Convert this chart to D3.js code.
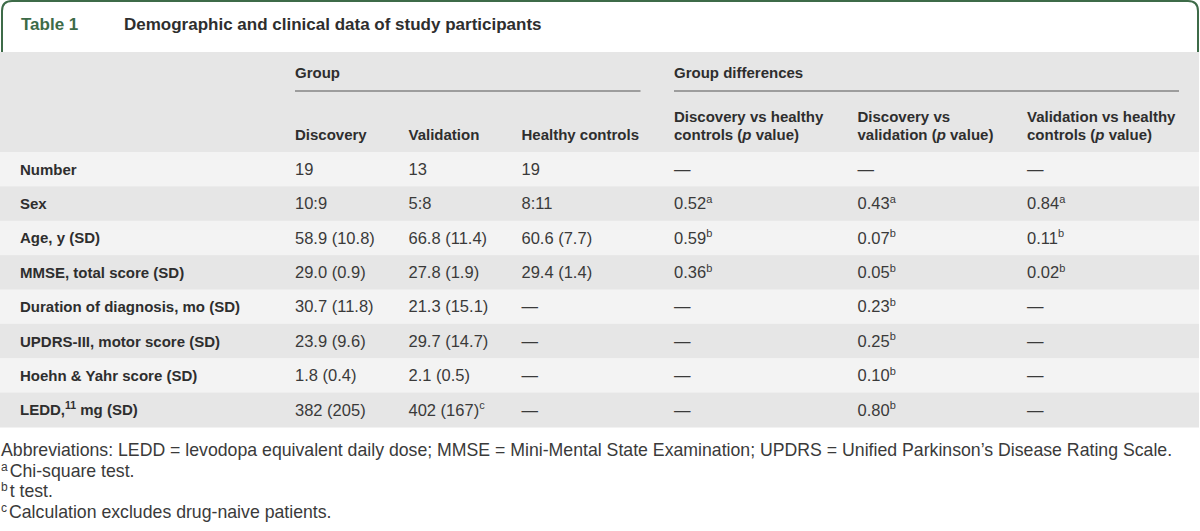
<!DOCTYPE html>
<html><head><meta charset="utf-8">
<script src="https://cdn.jsdelivr.net/npm/d3@7"></script>
<style>
body{margin:0;background:#fff;}
svg{display:block;font-family:"Liberation Sans",Arial,Helvetica,sans-serif;}
</style>
</head><body>
<svg id="chart" width="1200" height="531"></svg>
<script>
// ---------- data ----------
const tableLabel = "Table 1";
const tableTitle = "Demographic and clinical data of study participants";
const groupHeaders = ["Group", "Group differences"];
const columnKeys = ["discovery", "validation", "healthy", "discVsHealthy", "discVsVal", "valVsHealthy"];
const columnHeaders = [
  ["Discovery"],
  ["Validation"],
  ["Healthy controls"],
  ["Discovery vs healthy", "controls (_p_ value)"],
  ["Discovery vs", "validation (_p_ value)"],
  ["Validation vs healthy", "controls (_p_ value)"]
];
const rowLabels = [
  "Number", "Sex", "Age, y (SD)", "MMSE, total score (SD)",
  "Duration of diagnosis, mo (SD)", "UPDRS-III, motor score (SD)",
  "Hoehn & Yahr score (SD)", "LEDD,^11^ mg (SD)"
];
const discovery     = ["19", "10:9", "58.9 (10.8)", "29.0 (0.9)", "30.7 (11.8)", "23.9 (9.6)", "1.8 (0.4)", "382 (205)"];
const validation    = ["13", "5:8", "66.8 (11.4)", "27.8 (1.9)", "21.3 (15.1)", "29.7 (14.7)", "2.1 (0.5)", "402 (167)^c^"];
const healthy       = ["19", "8:11", "60.6 (7.7)", "29.4 (1.4)", "—", "—", "—", "—"];
const discVsHealthy = ["—", "0.52^a^", "0.59^b^", "0.36^b^", "—", "—", "—", "—"];
const discVsVal     = ["—", "0.43^a^", "0.07^b^", "0.05^b^", "0.23^b^", "0.25^b^", "0.10^b^", "0.80^b^"];
const valVsHealthy  = ["—", "0.84^a^", "0.11^b^", "0.02^b^", "—", "—", "—", "—"];
const footnotes = [
  "Abbreviations: LEDD = levodopa equivalent daily dose; MMSE = Mini-Mental State Examination; UPDRS = Unified Parkinson’s Disease Rating Scale.",
  "^a^Chi-square test.",
  "^b^t test.",
  "^c^Calculation excludes drug-naive patients."
];

// ---------- layout ----------
const svg = d3.select("#chart");
const green = "#3d6b48", textDark = "#2e2e2e", textReg = "#3a3a3a";
const hdrBg = "#e6e6e6", rowLight = "#f3f3f3", rowDark = "#e6e6e6";

const columns = {discovery, validation, healthy, discVsHealthy, discVsVal, valVsHealthy};
const x = d3.scaleOrdinal().domain(columnKeys).range([295, 408.5, 521.5, 674, 857.5, 1027]);
const labelX = 20;
const y = d3.scaleBand().domain(rowLabels).range([152, 427]);

// rich text: ^sup^ and _italic_
function rich(textSel, str, supSize, supShift, gapAfterSup) {
  const parts = str.split(/(\^[^\^]+\^|_[^_]+_)/).filter(s => s.length);
  let raised = false;
  parts.forEach(p => {
    const t = textSel.append("tspan");
    if (p[0] === "^") {
      t.attr("font-size", supSize).attr("dy", -supShift).text(p.slice(1, -1));
      raised = true;
    } else {
      if (raised) { t.attr("dy", supShift).attr("dx", gapAfterSup || 0); raised = false; }
      if (p[0] === "_") t.attr("font-style", "italic").text(p.slice(1, -1));
      else t.text(p);
    }
  });
}

// title box
svg.append("path")
  .attr("d", "M2,52 L2,11 Q2,1 12,1 L1188,1 Q1198,1 1198,11 L1198,52")
  .attr("fill", "none").attr("stroke", green).attr("stroke-width", 2);
svg.append("text").attr("x", 21).attr("y", 30)
  .attr("font-size", 17).attr("font-weight", "bold").attr("fill", green).text(tableLabel);
svg.append("text").attr("x", 124).attr("y", 30)
  .attr("font-size", 17).attr("font-weight", "bold").attr("fill", textDark).text(tableTitle);

// header background
svg.append("rect").attr("x", 0).attr("y", 52).attr("width", 1199).attr("height", 100).attr("fill", hdrBg);

// row backgrounds
svg.append("g").selectAll("rect").data(rowLabels).join("rect")
  .attr("x", 0).attr("y", d => y(d)).attr("width", 1199).attr("height", y.bandwidth() + 0.5)
  .attr("fill", (d, i) => i % 2 === 0 ? rowLight : rowDark);

// group headers + spanning lines
const groupSpans = [[x("discovery"), 640.5], [x("discVsHealthy"), 1179]];
groupHeaders.forEach((g, i) => {
  svg.append("text").attr("x", groupSpans[i][0]).attr("y", 77.5)
    .attr("font-size", 15).attr("font-weight", "bold").attr("fill", textDark).text(g);
  svg.append("line").attr("x1", groupSpans[i][0]).attr("x2", groupSpans[i][1])
    .attr("y1", 91).attr("y2", 91).attr("stroke", "#555").attr("stroke-width", 1.2);
});

// column headers (bottom aligned)
columnKeys.forEach((k, i) => {
  const lines = columnHeaders[i];
  lines.forEach((ln, j) => {
    const t = svg.append("text").attr("x", x(k)).attr("y", 140 - (lines.length - 1 - j) * 18.5)
      .attr("font-size", 15).attr("font-weight", "bold").attr("fill", textDark);
    rich(t, ln, 10, 6);
  });
});

// row labels
const rowsG = svg.append("g");
rowLabels.forEach(r => {
  const t = rowsG.append("text").attr("x", labelX).attr("y", y(r) + y.bandwidth() / 2 + 5.5)
    .attr("font-size", 15).attr("font-weight", "bold").attr("fill", textDark);
  rich(t, r, 10.5, 6);
});

// cell values
columnKeys.forEach(k => {
  columns[k].forEach((v, i) => {
    const t = rowsG.append("text").attr("x", x(k)).attr("y", y(rowLabels[i]) + y.bandwidth() / 2 + 5.8)
      .attr("font-size", 16.5).attr("fill", textReg);
    rich(t, v, 11, 6.5);
  });
});

// footnotes
footnotes.forEach((f, i) => {
  const t = svg.append("text").attr("x", 1).attr("y", 456 + i * 20.7)
    .attr("font-size", 17.7).attr("fill", textReg);
  rich(t, f, 12, 6, 2);
});
</script>
</body></html>
